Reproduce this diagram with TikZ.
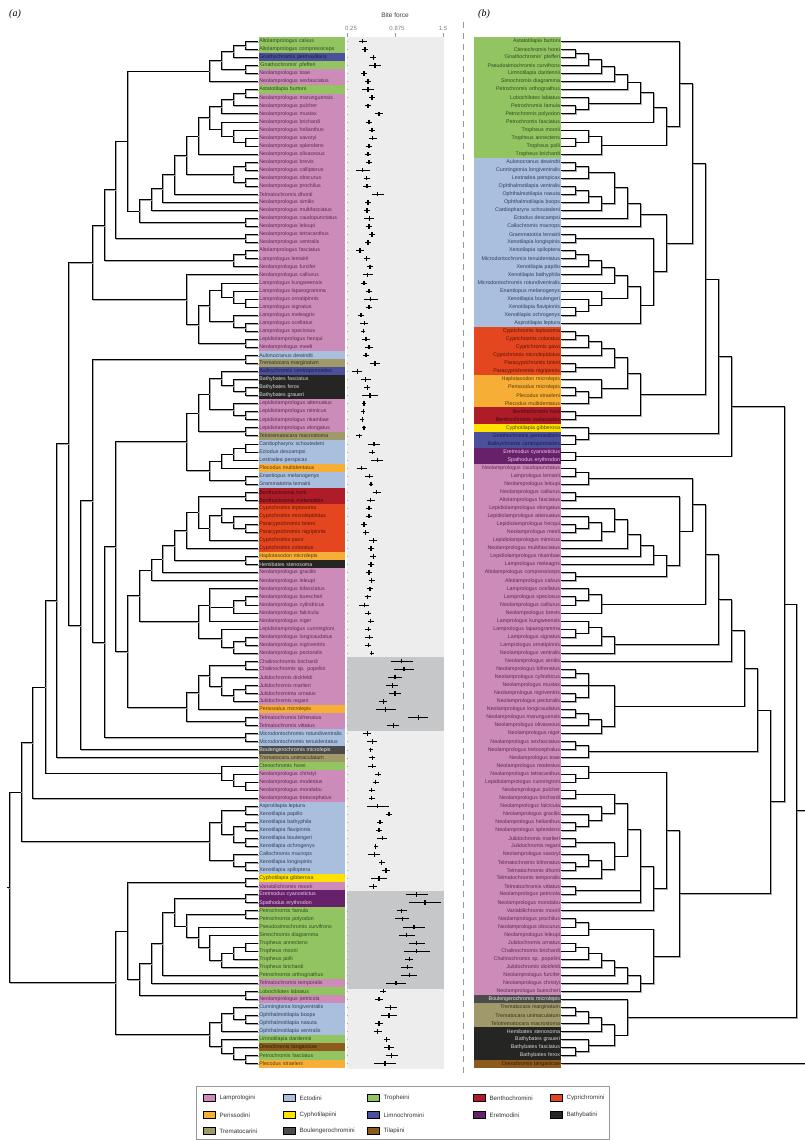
\documentclass[tikz,border=0pt]{standalone}
\usepackage{fontspec}
\setmainfont{Liberation Sans}
\newfontfamily\labfont{Liberation Serif}
\usetikzlibrary{calc}
\definecolor{cLam}{HTML}{CD8BB9}\definecolor{tLam}{HTML}{5B2A55}
\definecolor{cEct}{HTML}{A9BFDD}\definecolor{tEct}{HTML}{2E3F5A}
\definecolor{cTro}{HTML}{93C462}\definecolor{tTro}{HTML}{2F4A1E}
\definecolor{cBen}{HTML}{AD1C27}\definecolor{tBen}{HTML}{3F0A0E}
\definecolor{cCyp}{HTML}{E4461F}\definecolor{tCyp}{HTML}{5A1405}
\definecolor{cPer}{HTML}{F6AE37}\definecolor{tPer}{HTML}{5C3A06}
\definecolor{cCyt}{HTML}{FFE100}\definecolor{tCyt}{HTML}{4D4500}
\definecolor{cLim}{HTML}{4C4F9C}\definecolor{tLim}{HTML}{1A1B3F}
\definecolor{cEre}{HTML}{67216A}\definecolor{tEre}{HTML}{E8C8E8}
\definecolor{cBat}{HTML}{252523}\definecolor{tBat}{HTML}{D8D8D8}
\definecolor{cTre}{HTML}{A09A6B}\definecolor{tTre}{HTML}{333020}
\definecolor{cBou}{HTML}{4B4B4B}\definecolor{tBou}{HTML}{E6E6E6}
\definecolor{cTil}{HTML}{8B5A1C}\definecolor{tTil}{HTML}{2E1D06}
\definecolor{panel}{HTML}{ECEDEC}
\definecolor{panelD}{HTML}{C6C7C8}
\tikzset{
  br/.style={draw=black, line width=0.6pt, preaction={draw=black!35, line width=0.6pt, transform canvas={shift={(0.8,0.8)}}}},
  lfL/.style={anchor=west, minimum height=8.3pt, text width=85pt, inner xsep=0.8pt, inner ysep=0pt, align=left, font=\fontsize{5.3}{6}\selectfont},
  lfR/.style={anchor=east, minimum height=8.3pt, text width=85pt, inner xsep=0.8pt, inner ysep=0pt, align=right, font=\fontsize{5.3}{6}\selectfont},
  sw/.style={anchor=west, minimum width=12pt, minimum height=7pt, draw=black, line width=0.4pt, inner sep=0pt},
  lgt/.style={anchor=west, inner sep=0pt, font=\fontsize{6.2}{7}\selectfont, text=black!80},
  errbar/.style={draw=black, line width=0.6pt},
  ptmark/.style={draw=black, line width=1.4pt},
}
\newcommand\clade[4]{\path let \p1=($(#3)!0.5!(#4)$) in coordinate (#1) at (#2pt,\y1);
  \draw[br] (#1) |- (#3); \draw[br] (#1) |- (#4);}
\newcommand\cladeT[5]{\path let \p1=($(#3)!0.5!(#5)$) in coordinate (#1) at (#2pt,\y1);
  \draw[br] (#1) |- (#3); \draw[br] (#1) |- (#4); \draw[br] (#1) |- (#5);}
\begin{document}
\begin{tikzpicture}[x=1pt,y=-1pt]
\useasboundingbox[fill=white] (0,0) rectangle (804,1140);
% panel labels
\node[font=\labfont\itshape\fontsize{10}{12}\selectfont] (pa) at (15,14) {(a)};
\node[font=\labfont\itshape\fontsize{10}{12}\selectfont] (pb) at (484,14) {(b)};
% divider
\draw[black!40, line width=1pt, dash pattern=on 6pt off 5pt] (463.3,22) -- (463.3,1076);
% bite force panel
\fill[panel] (346.7,37.3) rectangle (444,1068.5);
\fill[panelD] (346.7,657.3) rectangle (444,730.5);
\fill[panelD] (346.7,890.6) rectangle (444,988.5);
\node[font=\fontsize{6.5}{7}\selectfont, text=black!75] (bft) at (395,15) {Bite force};
\foreach \tx/\tl/\lx in {346.7/0.25/351, 395/0.875/397, 443.3/1.5/443}{
  \draw[black!40, line width=0.4pt] (\tx,33.5) -- (\tx,37.3);
  \node[font=\fontsize{6}{7}\selectfont, text=black!50] at (\lx,28.5) {\tl};
}
\foreach \i in {1,...,128}{
  \pgfmathsetmacro\yy{41.3+(\i-1)*8.05}
  \draw[black!35, line width=0.4pt] (346.7,\yy) -- (348.2,\yy);
}
\foreach \r/\x/\e in {1/362.7/4,2/365/3,3/373.3/3,4/375/6,5/364/3,6/368/3,7/368/6,8/372/3,9/368/3,10/379/4,
11/369/3,12/372/3,13/372.7/4,14/369/3,15/368/3,16/369/3,17/362.7/7,18/366.7/3,19/367/4,20/377.7/6,
21/368/3,22/367/3,23/369.3/5,24/369/3,25/372/3,26/368/3,27/360/4,28/366.7/3,29/370/3,30/367.7/5,
31/364/3,32/369/3,33/370.7/7,34/369/3,35/361/3,36/364.3/4,37/363.3/2,38/366/4,39/369/4,40/366/3,
41/375/5,42/357.3/5,43/365.7/5,44/367.3/3,45/370/8,46/364/2,47/363.3/2,48/362.3/2,49/364/2,50/359.3/3,
51/374/6,52/372.3/3,53/377.3/6,54/361.7/5,55/369.3/4,56/371/2,57/376.7/4,58/370.7/4,59/369/3,60/369/3,
61/364/3,62/365.7/3,63/373.3/4,64/371/3,65/373.3/3,66/371/3,67/369/3,68/371.7/3,69/370/3,70/367.7/3,
71/364.3/5,72/368.3/3,73/370.7/3,74/368.3/3,75/369.3/4,76/368.3/3,77/371.7/2,78/401.7/11,79/404/10,80/395/7,
81/392.3/6,82/395/6,83/383.3/4,84/385.7/10,85/418.3/10,86/393.3/6,87/367.3/4,88/372.3/5,89/370.7/2,90/372.3/3,
91/372.3/4,92/378.3/3,93/375.7/3,94/371.7/3,95/371.7/3,96/377.7/11,97/389/3,98/380/3,99/379/3,100/382.3/5,
101/375.7/2,102/374.3/6,103/381.7/3,104/386/4,105/379/8,106/373.3/4,107/416.7/11,108/425/16,109/401.7/5,110/402.3/7,
111/414/11,112/406.7/8,113/416.7/8,114/416.7/13,115/409.3/4,116/407.3/6,117/409.3/8,118/396/10,119/383.3/3,120/379/4,
121/390.7/6,122/389/8,123/379/4,124/377.7/4,125/386.7/3,126/389/5,127/391.7/6,128/385/11}{
  \pgfmathsetmacro\yy{41.3+(\r-1)*8.05}
  \draw[errbar] (\x-\e,\yy) -- (\x+\e,\yy);
  \draw[ptmark] (\x,\yy-2.2) -- (\x,\yy+2.2);
}
% ---------------- left leaves ----------------
\foreach \nm/\cc [count=\i] in {
Altolamprologus calvus/Tro, Altolamprologus compressiceps/Tro, Gnathochromis permaxillaris/Lim, 'Gnathochromis' pfefferi/Tro,
Neolamprologus toae/Lam, Neolamprologus sexfasciatus/Lam, Astatotilapia burtoni/Tro, Neolamprologus marunguensis/Lam,
Neolamprologus pulcher/Lam, Neolamprologus mustax/Lam, Neolamprologus brichardi/Lam, Neolamprologus helianthus/Lam,
Neolamprologus savoryi/Lam, Neolamprologus splendens/Lam, Neolamprologus olivaceous/Lam, Neolamprologus brevis/Lam,
Neolamprologus callipterus/Lam, Neolamprologus obscurus/Lam, Neolamprologus prochilus/Lam, Telmatochromis dhonti/Lam,
Neolamprologus similis/Lam, Neolamprologus multifasciatus/Lam, Neolamprologus caudopunctatus/Lam, Neolamprologus leloupi/Lam,
Neolamprologus tetracanthus/Lam, Neolamprologus ventralis/Lam, Altolamprologus fasciatus/Lam, Lamprologus lemairii/Lam,
Neolamprologus furcifer/Lam, Neolamprologus calliurus/Lam, Lamprologus kungweensis/Lam, Lamprologus laparogramma/Lam,
Lamprologus ornatipinnis/Lam, Lamprologus signatus/Lam, Lamprologus meleagris/Lam, Lamprologus ocellatus/Lam,
Lamprologus speciosus/Lam, Lepidiolamprologus hecqui/Lam, Neolamprologus meeli/Lam, Aulonocranus dewindti/Ect,
Trematocara marginatum/Tre, Baileychromis centropomoides/Lim, Bathybates fasciatus/Bat, Bathybates ferox/Bat,
Bathybates graueri/Bat, Lepidiolamprologus attenuatus/Lam, Lepidiolamprologus mimicus/Lam, Lepidiolamprologus nkambae/Lam,
Lepidiolamprologus elongatus/Lam, Telotrematocara macrostoma/Tre, Cardiopharynx schoutedeni/Ect, Ectodus descampsi/Ect,
Lestradea perspicax/Ect, Plecodus multidentatus/Per, Enantiopus melanogenys/Ect, Grammatotria lemairii/Ect,
Benthochromis horii/Ben, Benthochromis melanoides/Ben, Cyprichromis leptosoma/Cyp, Cyprichromis microlepidotus/Cyp,
Paracyprichromis brieni/Cyp, Paracyprichromis nigripinnis/Cyp, Cyprichromis pavo/Cyp, Cyprichromis coloratus/Cyp,
Haplotaxodon microlepis/Per, Hemibates stenosoma/Bat, Neolamprologus gracilis/Lam, Neolamprologus leleupi/Lam,
Neolamprologus bifasciatus/Lam, Neolamprologus buescheri/Lam, Neolamprologus cylindricus/Lam, Neolamprologus falcicula/Lam,
Neolamprologus niger/Lam, Lepidiolamprologus cunningtoni/Lam, Neolamprologus longicaudatus/Lam, Neolamprologus nigriventris/Lam,
Neolamprologus pectoralis/Lam, Chalinochromis brichardi/Lam, Chalinochromis sp. popelini/Lam, Julidochromis dickfeldi/Lam,
Julidochromis marlieri/Lam, Julidochromima ornatus/Lam, Julidochromis regani/Lam, Perissodus microlepis/Per,
Telmatochromis bifrenatus/Lam, Telmatochromis vittatus/Lam, Microdontochromis rotundiventralis/Ect, Microdontochromis tenuidentatus/Ect,
Boulengerochromis microlepis/Bou, Trematocara unimaculatum/Tre, Ctenochromis horei/Tro, Neolamprologus christyi/Lam,
Neolamprologus modestus/Lam, Neolamprologus mondabu/Lam, Neolamprologus tretocephalus/Lam, Asprotilapia leptura/Ect,
Xenotilapia papilio/Ect, Xenotilapia bathyphila/Ect, Xenotilapia flavipinnis/Ect, Xenotilapia boulengeri/Ect,
Xenotilapia ochrogenys/Ect, Callochromis macrops/Ect, Xenotilapia longispinis/Ect, Xenotilapia spiloptera/Ect,
Cyphotilapia gibberosa/Cyt, Variabilichromis moorii/Lam, Eretmodus cyanostictus/Ere, Spathodus erythrodon/Ere,
Petrochromis famula/Tro, Petrochromis polyodon/Tro, Pseudosimochromis curvifrons/Tro, Simochromis diagramma/Tro,
Tropheus annectens/Tro, Tropheus moorii/Tro, Tropheus polli/Tro, Tropheus brichardi/Tro,
Petrochromis orthognathus/Tro, Telmatochromis temporalis/Lam, Lobochilotes labiatus/Tro, Neolamprologus petricola/Lam,
Cunningtonia longiventralis/Ect, Ophthalmotilapia boops/Ect, Ophthalmotilapia nasuta/Ect, Ophthalmotilapia ventralis/Ect,
Limnotilapia dardennii/Tro, Oreochromis tanganicae/Til, Petrochromis fasciatus/Tro, Plecodus straeleni/Per}{
  \pgfmathsetmacro\yy{41.3+(\i-1)*8.05}
  \node[lfL, fill=c\cc, text=t\cc] (L\i) at (258.3,\yy) {\nm};
}
% ---------------- right leaves ----------------
\foreach \nm/\cc [count=\i] in {
Astatotilapia burtoni/Tro, Ctenochromis horei/Tro, 'Gnathochromis' pfefferi/Tro, Pseudosimochromis curvifrons/Tro,
Limnotilapia dardennii/Tro, Simochromis diagramma/Tro, Petrochromis orthognathus/Tro, Lobochilotes labiatus/Tro,
Petrochromis famula/Tro, Petrochromis polyodon/Tro, Petrochromis fasciatus/Tro, Tropheus moorii/Tro,
Tropheus annectens/Tro, Tropheus polli/Tro, Tropheus brichardi/Tro, Aulonocranus dewindti/Ect,
Cunningtonia longiventralis/Ect, Lestradea perspicax/Ect, Ophthalmotilapia ventralis/Ect, Ophthalmotilapia nasuta/Ect,
Ophthalmotilapia boops/Ect, Cardiopharynx schoutedeni/Ect, Ectodus descampsi/Ect, Callochromis macrops/Ect,
Grammatotria lemairii/Ect, Xenotilapia longispinis/Ect, Xenotilapia spiloptera/Ect, Microdontochromis tenuidentatus/Ect,
Xenotilapia papilio/Ect, Xenotilapia bathyphila/Ect, Microdontochromis rotundiventralis/Ect, Enantiopus melanogenys/Ect,
Xenotilapia boulengeri/Ect, Xenotilapia flavipinnis/Ect, Xenotilapia ochrogenys/Ect, Asprotilapia leptura/Ect,
Cyprichromis leptosoma/Cyp, Cyprichromis coloratus/Cyp, Cyprichromis pavo/Cyp, Cyprichromis microlepidotus/Cyp,
Paracyprichromis brieni/Cyp, Paracyprichromis nigripinnis/Cyp, Haplotaxodon microlepis/Per, Perissodus microlepis/Per,
Plecodus straeleni/Per, Plecodus multidentatus/Per, Benthochromis horii/Ben, Benthochromis melanoides/Ben,
Cyphotilapia gibberosa/Cyt, Gnathochromis permaxillaris/Lim, Baileychromis centropomoides/Lim, Eretmodus cyanostictus/Ere,
Spathodus erythrodon/Ere, Neolamprologus caudopunctatus/Lam, Lamprologus lemairii/Lam, Neolamprologus leloupi/Lam,
Neolamprologus calliurus/Lam, Altolamprologus fasciatus/Lam, Lepidiolamprologus elongatus/Lam, Lepidiolamprologus attenuatus/Lam,
Lepidiolamprologus hecqui/Lam, Neolamprologus meeli/Lam, Lepidiolamprologus mimicus/Lam, Neolamprologus multifasciatus/Lam,
Lepidiolamprologus nkambae/Lam, Lamprologus meleagris/Lam, Altolamprologus compressiceps/Lam, Altolamprologus calvus/Lam,
Lamprologus ocellatus/Lam, Lamprologus speciosus/Lam, Neolamprologus calliurus/Lam, Neolamprologus brevis/Lam,
Lamprologus kungweensis/Lam, Lamprologus laparogramma/Lam, Lamprologus signatus/Lam, Lamprologus ornatipinnis/Lam,
Neolamprologus ventralis/Lam, Neolamprologus similis/Lam, Neolamprologus bifrenatus/Lam, Neolamprologus cylindricus/Lam,
Neolamprologus mustax/Lam, Neolamprologus nigriventris/Lam, Neolamprologus pectoralis/Lam, Neolamprologus longicaudatus/Lam,
Neolamprologus marunguensis/Lam, Neolamprologus olivaceous/Lam, Neolamprologus niger/Lam, Neolamprologus sexfasciatus/Lam,
Neolamprologus tretocephalus/Lam, Neolamprologus toae/Lam, Neolamprologus modestus/Lam, Neolamprologus tetracanthus/Lam,
Lepidiolamprologus cunningtoni/Lam, Neolamprologus pulcher/Lam, Neolamprologus brichardi/Lam, Neolamprologus falcicula/Lam,
Neolamprologus gracilis/Lam, Neolamprologus helianthus/Lam, Neolamprologus splendens/Lam, Julidochromis marlieri/Lam,
Julidochromis regani/Lam, Neolamprologus savoryi/Lam, Telmatochromis bifrenatus/Lam, Telmatochromis dhonti/Lam,
Telmatochromis temporalis/Lam, Telmatochromis vittatus/Lam, Neolamprologus petricola/Lam, Neolamprologus mondabu/Lam,
Variabilichromis moorii/Lam, Neolamprologus prochilus/Lam, Neolamprologus obscurus/Lam, Neolamprologus leleupi/Lam,
Julidochromis ornatus/Lam, Chalinochromis brichardi/Lam, Chalinochromis sp. popelini/Lam, Julidochromis dickfeldi/Lam,
Neolamprologus furcifer/Lam, Neolamprologus christyi/Lam, Neolamprologus buescheri/Lam, Boulengerochromis microlepis/Bou,
Trematocara marginatum/Tre, Trematocara unimaculatum/Tre, Telotrematocara macrostoma/Tre, Hemibates stenosoma/Bat,
Bathybates graueri/Bat, Bathybates fasciatus/Bat, Bathybates ferox/Bat, Oreochromis tanganicae/Til}{
  \pgfmathsetmacro\yy{41.3+(\i-1)*8.05}
  \node[lfR, fill=c\cc, text=t\cc] (R\i) at (561,\yy) {\nm};
}
% ---------------- left tree ----------------
\clade{a1}{245.7}{L1}{L2}
\clade{a2}{233.3}{a1}{L3}
\clade{a3}{245.7}{L4}{L5}
\clade{a4}{221.7}{a2}{a3}
\clade{a5}{209.3}{a4}{L6}
\clade{b1}{245.7}{L7}{L8}
\clade{b2}{233.3}{b1}{L9}
\clade{b6}{221.7}{b2}{L10}
\clade{b3}{245.7}{L13}{L14}
\clade{b4}{233.3}{L12}{b3}
\clade{b5}{221.7}{L11}{b4}
\clade{b7}{209.3}{b6}{b5}
\clade{b8}{198.3}{b7}{L15}
\clade{c1}{245.7}{L16}{L17}
\clade{c2}{245.7}{L18}{L19}
\clade{c3}{233.3}{c1}{c2}
\clade{b9}{186}{b8}{c3}
\clade{b10}{174}{b9}{L20}
\clade{b11}{162.3}{b10}{L21}
\clade{b12}{151}{b11}{L22}
\clade{d0}{245.7}{L23}{L24}
\clade{b13}{139.3}{b12}{d0}
\clade{b14}{127.7}{a5}{b13}
\clade{d1}{245.7}{L25}{L26}
\clade{b15}{115.3}{b14}{d1}
\clade{e1}{245.7}{L27}{L28}
\clade{e2}{233.3}{e1}{L29}
\clade{b16}{104.3}{b15}{e2}
\clade{f1}{245.7}{L33}{L34}
\clade{f2}{233.3}{L32}{f1}
\clade{f3}{221.7}{L31}{f2}
\clade{f4}{245.7}{L36}{L37}
\clade{f5}{233.3}{L35}{f4}
\clade{f6}{209.3}{f3}{f5}
\clade{f7}{245.7}{L38}{L39}
\clade{f8}{198.3}{f6}{f7}
\clade{f9}{186}{L30}{f8}
\clade{b17}{92.3}{b16}{f9}
\clade{g1}{245.7}{L40}{L41}
\clade{h1}{245.7}{L44}{L45}
\clade{h2}{233.3}{L43}{h1}
\clade{h3}{221.7}{L42}{h2}
\clade{h4}{245.7}{L47}{L48}
\clade{h5}{233.3}{L46}{h4}
\clade{h6}{209.3}{h3}{h5}
\clade{h7}{245.7}{L49}{L50}
\clade{h8}{198.3}{h6}{h7}
\clade{i1}{245.7}{L51}{L52}
\clade{i2}{233.3}{i1}{L53}
\clade{i3}{221.7}{i2}{L54}
\clade{i4}{245.7}{L55}{L56}
\clade{i5}{209.3}{i3}{i4}
\clade{h9}{186}{h8}{i5}
\clade{k1}{245.7}{L57}{L58}
\clade{k2}{245.7}{L61}{L62}
\clade{k3}{233.3}{L60}{k2}
\clade{k4}{221.7}{L59}{k3}
\clade{k5}{209.3}{k4}{L63}
\clade{k6}{198.3}{k1}{k5}
\clade{k7}{186}{k6}{L64}
\clade{k8}{245.7}{L65}{L66}
\clade{k9}{174}{k7}{k8}
\clade{k10}{162.3}{k9}{L67}
\clade{k11}{151}{k10}{L68}
\clade{m1}{245.7}{L70}{L71}
\clade{m2}{233.3}{m1}{L72}
\cladeT{m3}{209.3}{L69}{m2}{L73}
\clade{m4}{245.7}{L75}{L76}
\clade{m5}{233.3}{m4}{L77}
\clade{m6}{221.7}{L74}{m5}
\clade{m7}{198.3}{m3}{m6}
\clade{k12}{139.3}{k11}{m7}
\clade{j1}{245.7}{L78}{L79}
\clade{j2}{245.7}{L81}{L82}
\clade{j3}{233.3}{j2}{L83}
\clade{j4}{221.7}{L80}{j3}
\clade{j5}{209.3}{j1}{j4}
\clade{j6}{198.3}{j5}{L84}
\clade{j7}{245.7}{L85}{L86}
\clade{j8}{186}{j6}{j7}
\clade{k13}{127.7}{k12}{j8}
\clade{n1}{115.3}{h9}{k13}
\clade{n2}{245.7}{L87}{L88}
\clade{n3}{104.3}{n1}{n2}
\clade{n4}{92.3}{g1}{n3}
\clade{n5}{80}{n4}{L89}
\clade{n6}{68.3}{b17}{n5}
\clade{n7}{56.7}{n6}{L90}
\clade{p1}{245.7}{L93}{L94}
\clade{p2}{233.3}{L92}{p1}
\clade{p3}{221.7}{L91}{p2}
\clade{n8}{45}{n7}{p3}
\clade{n9}{32.7}{n8}{L95}
\clade{q1}{245.7}{L96}{L97}
\clade{q2}{245.7}{L98}{L99}
\clade{q3}{245.7}{L100}{L101}
\clade{q4}{233.3}{q2}{q3}
\clade{q5}{221.7}{q1}{q4}
\clade{q6}{245.7}{L103}{L104}
\clade{q7}{233.3}{L102}{q6}
\clade{q8}{209.3}{q5}{q7}
\clade{n10}{21.3}{n9}{q8}
\clade{r1}{245.7}{L105}{L106}
\clade{r2}{245.7}{L107}{L108}
\clade{r3}{245.7}{L109}{L110}
\clade{s1}{245.7}{L113}{L114}
\clade{s2}{233.3}{s1}{L115}
\clade{s3}{221.7}{s2}{L116}
\clade{s4}{209.3}{L112}{s3}
\clade{s5}{198.3}{L111}{s4}
\clade{s6}{186}{r3}{s5}
\clade{s7}{174}{r2}{s6}
\clade{s8}{162.3}{s7}{L117}
\clade{s9}{151}{s8}{L118}
\clade{t1}{245.7}{L119}{L120}
\clade{s10}{139.3}{s9}{t1}
\clade{s11}{127.7}{r1}{s10}
\clade{u1}{245.7}{L122}{L123}
\clade{u2}{233.3}{L121}{u1}
\clade{u3}{221.7}{u2}{L124}
\clade{u4}{245.7}{L127}{L128}
\clade{u5}{233.3}{L126}{u4}
\clade{u6}{221.7}{L125}{u5}
\clade{u7}{209.3}{u3}{u6}
\clade{s12}{115.3}{s11}{u7}
\clade{lroot}{9.3}{n10}{s12}
\path (lroot) ++(-2.5,0) coordinate (lrs);
\draw[br] (lrs) -- (lroot);
% ---------------- right tree ----------------
\clade{A1}{575.7}{R2}{R3}
\clade{A2}{588.3}{A1}{R4}
\clade{A3}{601}{A2}{R5}
\clade{A4}{614.3}{A3}{R6}
\clade{A5}{627.7}{A4}{R7}
\clade{A6}{575.7}{R9}{R10}
\clade{A7}{588.3}{R8}{A6}
\clade{A8}{640.3}{A5}{A7}
\clade{A9}{653.7}{A8}{R11}
\clade{A10}{575.7}{R13}{R14}
\clade{A11}{588.3}{R12}{A10}
\clade{A12}{601}{A11}{R15}
\clade{A13}{666.3}{A9}{A12}
\clade{A14}{679.3}{R1}{A13}
\clade{B1}{575.7}{R16}{R17}
\clade{B2}{588.3}{B1}{R18}
\clade{B3}{575.7}{R19}{R20}
\clade{B4}{588.3}{B3}{R21}
\clade{B5}{601}{B4}{R22}
\clade{B6}{614.3}{B2}{B5}
\clade{B7}{627.7}{B6}{R23}
\clade{B8}{640.3}{B7}{R24}
\clade{B9}{575.7}{R25}{R26}
\clade{B10}{575.7}{R27}{R28}
\clade{B11}{588.3}{B10}{R29}
\clade{B12}{601}{B11}{R30}
\clade{B13}{614.3}{B12}{R31}
\clade{B14}{575.7}{R34}{R35}
\clade{B15}{588.3}{R33}{B14}
\clade{B16}{601}{R32}{B15}
\clade{B17}{627.7}{B13}{B16}
\clade{B18}{640.3}{B17}{R36}
\clade{B19}{653.7}{B9}{B18}
\clade{B20}{666.3}{B8}{B19}
\clade{C1}{692.3}{A14}{B20}
\clade{D1}{575.7}{R37}{R38}
\clade{D2}{588.3}{D1}{R39}
\clade{D3}{601}{D2}{R40}
\clade{D4}{575.7}{R41}{R42}
\clade{D5}{614.3}{D3}{D4}
\clade{D6}{575.7}{R44}{R45}
\clade{D7}{588.3}{D6}{R46}
\clade{D8}{601}{R43}{D7}
\clade{D9}{627.7}{D5}{D8}
\clade{D10}{575.7}{R47}{R48}
\clade{D11}{640.3}{D9}{D10}
\clade{C2}{705.7}{C1}{D11}
\clade{E1}{575.7}{R50}{R51}
\clade{E2}{588.3}{R49}{E1}
\clade{C3}{718.3}{C2}{E2}
\clade{E3}{575.7}{R52}{R53}
\clade{C4}{731.7}{C3}{E3}
\clade{F1}{575.7}{R54}{R55}
\clade{F2}{588.3}{F1}{R56}
\clade{F3}{575.7}{R57}{R58}
\clade{F4}{575.7}{R61}{R62}
\clade{F5}{588.3}{R60}{F4}
\clade{F6}{601}{F5}{R63}
\clade{F7}{614.3}{R59}{F6}
\clade{F8}{627.7}{F7}{R64}
\clade{F9}{640.3}{F8}{R65}
\clade{F10}{653.7}{F9}{R66}
\clade{F11}{575.7}{R67}{R68}
\clade{F12}{666.3}{F10}{F11}
\clade{F13}{679.3}{F3}{F12}
\clade{F14}{692.3}{F2}{F13}
\clade{G1}{575.7}{R70}{R71}
\clade{G2}{588.3}{R69}{G1}
\clade{G3}{601}{G2}{R72}
\clade{G4}{705.7}{F14}{G3}
\clade{H1}{575.7}{R74}{R75}
\clade{H2}{588.3}{R73}{H1}
\clade{H3}{601}{H2}{R76}
\clade{H4}{614.3}{H3}{R77}
\clade{G5}{718.3}{G4}{H4}
\clade{G6}{731.7}{G5}{R78}
\clade{I1}{575.7}{R79}{R80}
\clade{I2}{575.7}{R82}{R83}
\cladeT{I3}{588.3}{I1}{R81}{I2}
\clade{I4}{575.7}{R84}{R85}
\clade{I5}{588.3}{I4}{R86}
\clade{I6}{601}{I5}{R87}
\clade{I7}{614.3}{I3}{I6}
\clade{G7}{744.3}{G6}{I7}
\clade{J1}{575.7}{R88}{R89}
\clade{J2}{588.3}{J1}{R90}
\clade{G8}{757.7}{G7}{J2}
\clade{K1}{575.7}{R92}{R93}
\clade{K2}{588.3}{R91}{K1}
\clade{K3}{575.7}{R94}{R95}
\clade{K4}{575.7}{R98}{R99}
\clade{K5}{588.3}{R97}{K4}
\clade{K6}{601}{R96}{K5}
\clade{K7}{614.3}{K3}{K6}
\clade{K8}{575.7}{R100}{R101}
\clade{K9}{575.7}{R103}{R104}
\clade{K10}{588.3}{R102}{K9}
\clade{K11}{601}{K10}{R105}
\clade{K12}{614.3}{K8}{K11}
\clade{K13}{627.7}{K7}{K12}
\clade{K14}{575.7}{R106}{R107}
\cladeT{K15}{640.3}{K13}{K14}{R108}
\clade{K16}{653.7}{K15}{R109}
\clade{K17}{666.3}{K2}{K16}
\clade{M1}{575.7}{R110}{R111}
\clade{M2}{588.3}{M1}{R112}
\clade{M3}{575.7}{R113}{R114}
\clade{M4}{588.3}{M3}{R115}
\clade{M5}{601}{M4}{R116}
\clade{M6}{614.3}{M5}{R117}
\clade{M7}{627.7}{M6}{R118}
\clade{M8}{640.3}{M7}{R119}
\clade{M9}{653.7}{M2}{M8}
\clade{K18}{679.3}{K17}{M9}
\clade{G9}{770.7}{G8}{K18}
\clade{G10}{784}{C4}{G9}
\clade{N1}{575.7}{R121}{R122}
\clade{N2}{588.3}{N1}{R123}
\clade{N3}{601}{N2}{R124}
\clade{N4}{575.7}{R126}{R127}
\clade{N5}{588.3}{R125}{N4}
\clade{N6}{614.3}{N3}{N5}
\clade{N7}{627.7}{R120}{N6}
\clade{Z}{796.7}{G10}{N7}
\path (Z) ++(8,0) coordinate (Zr);
\draw[br] (Z) -- (Zr);
\coordinate (Or) at (R128.east -| Zr);
\draw[br] (R128) -- (Or);
% ---------------- legend ----------------
\draw[black!40, line width=0.5pt] (196,1086) rectangle (609,1139);
\foreach \cc/\lab/\lx/\ly [count=\k] in {Lam/Lamprologini/203/1098, Ect/Ectodini/283/1098, Tro/Tropheini/367/1098, Ben/Benthochromini/473/1098, Cyp/Cyprichromini/550/1098,
Per/Perissodini/203/1115, Cyt/Cyphotilapiini/283/1115, Lim/Limnochromini/367/1115, Ere/Eretmodini/473/1115, Bat/Bathybatini/550/1115,
Tre/Trematocarini/203/1131, Bou/Boulengerochromini/283/1131, Til/Tilapiini/367/1131}{
  \node[sw, fill=c\cc] (S\k) at (\lx,\ly) {};
  \node[lgt] (T\k) at ($(S\k.east)+(4,0)$) {\lab};
}
\end{tikzpicture}
\end{document}
